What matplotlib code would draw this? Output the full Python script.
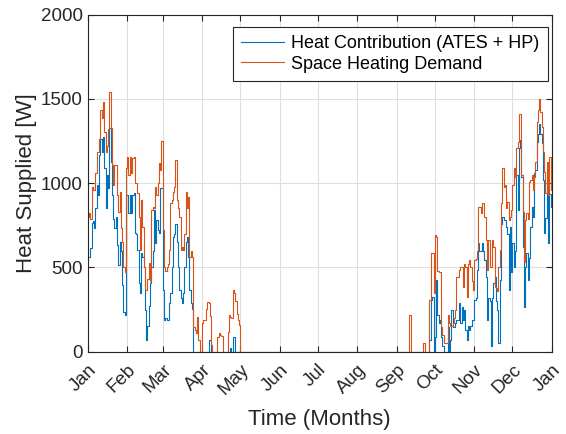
import numpy as np
import pandas as pd
import matplotlib
matplotlib.use("Agg")
import matplotlib.pyplot as plt
import matplotlib.dates as mdates

plt.rcParams['font.family'] = ['Liberation Sans', 'DejaVu Sans']

# daily values, Jan 1 - May 5 (125 days)
demand_jan_may = [
    800, 820, 790, 980, 960, 960, 1060, 1185, 1185, 1265,
    1433, 1385, 1480, 1305, 1185, 1220, 1320, 1540, 1330, 1107,
    990, 1107, 1107, 930, 830, 950, 733, 650, 505, 475,
    1087, 1157, 1050, 1157, 1060, 1150, 1157, 1000, 1000, 940,
    800, 603, 900, 741, 500, 366, 366, 430, 525, 420,
    840, 860, 850, 980, 930, 1000, 1117, 1080, 1250, 722,
    504, 480, 500, 520, 603, 880, 900, 950, 980, 1137,
    900, 850, 800, 603, 620, 603, 700, 950, 850, 920,
    563, 600, 560, 148, 130, 110, 207, 69, 0, 0,
    170, 188, 188, 250, 296, 288, 210, 40, 0, 0,
    0, 0, 89, 110, 100, 90, 0, 0, 0, 0,
    118, 217, 207, 200, 366, 346, 300, 220, 187, 160,
    0, 0, 0, 0, 0,
]
supply_jan_may = [
    563, 563, 615, 763, 775, 733, 852, 988, 930, 1167,
    1265, 1185, 1275, 1087, 852, 1048, 970, 1325, 1127, 930,
    790, 733, 800, 633, 514, 650, 600, 395, 237, 217,
    930, 930, 820, 930, 820, 930, 940, 703, 700, 603,
    405, 346, 585, 560, 504, 247, 69, 150, 268, 405,
    500, 600, 840, 643, 781, 720, 703, 969, 969, 366,
    188, 200, 190, 188, 287, 350, 500, 682, 700, 760,
    650, 500, 366, 320, 287, 346, 500, 650, 680, 560,
    366, 287, 250, 0, 0, 0, 0, 0, 0, 0,
    0, 0, 0, 0, 0, 70, 70, 0, 0, 0,
    0, 0, 0, 0, 0, 0, 0, 0, 0, 0,
    0, 0, 20, 0, 89, 89, 0, 0, 0, 0,
    0, 0, 0, 0, 0,
]
# May 6 - Aug 31: no heating
summer_days = 118
# Sep 1 - Dec 31 (122 days)
demand_sep_dec = [
    0, 0, 0, 0, 0, 0, 0, 0, 0, 0,
    217, 0, 0, 0, 0, 0, 0, 0, 0, 0,
    0, 50, 0, 0, 0, 306, 306, 583, 583, 350,
    690, 682, 480, 474, 470, 148, 100, 50, 50, 50,
    217, 168, 150, 150, 168, 200, 247, 445, 445, 485,
    504, 504, 385, 520, 500, 326, 520, 543, 500, 420,
    366, 543, 550, 600, 860, 860, 820, 880, 880, 800,
    660, 485, 660, 500, 504, 660, 620, 385, 380, 360,
    500, 602, 880, 1087, 980, 990, 850, 890, 780, 801,
    840, 988, 1087, 1038, 1206, 1245, 1413, 1413, 1048, 830,
    534, 781, 820, 790, 1008, 1018, 1048, 960, 1038, 1127,
    1364, 1433, 1502, 1420, 1334, 1186, 1068, 940, 1127, 930,
    1157, 958,
]
supply_sep_dec = [
    0, 0, 0, 0, 0, 0, 0, 0, 0, 0,
    0, 0, 0, 0, 0, 0, 0, 0, 0, 0,
    0, 0, 0, 0, 0, 69, 69, 306, 322, 0,
    87, 425, 217, 168, 187, 87, 30, 0, 0, 0,
    148, 0, 69, 247, 148, 148, 168, 187, 187, 286,
    168, 267, 187, 247, 128, 69, 150, 128, 150, 188,
    187, 306, 320, 485, 643, 600, 600, 643, 600, 543,
    445, 187, 320, 300, 30, 320, 405, 445, 300, 247,
    50, 425, 760, 800, 781, 780, 740, 700, 365, 740,
    474, 643, 504, 600, 1048, 840, 1206, 1255, 1038, 623,
    267, 504, 583, 425, 553, 741, 860, 800, 1058, 1078,
    1245, 1294, 1353, 1290, 1236, 1018, 702, 791, 1000, 643,
    938, 860,
]

demand = demand_jan_may + [0] * summer_days + demand_sep_dec
supply = supply_jan_may + [0] * summer_days + supply_sep_dec
days = pd.date_range('2023-01-01', periods=len(demand) + 1, freq='D')
demand = demand + demand[-1:]
supply = supply + supply[-1:]

fig = plt.figure(figsize=(5.66, 4.34), dpi=100)
ax = fig.add_axes([0.155, 0.19, 0.82, 0.776])

ax.step(days, supply, where='post', color='#0072BD', lw=0.8,
        label='Heat Contribution (ATES + HP)')
ax.step(days, demand, where='post', color='#D95319', lw=0.8,
        label='Space Heating Demand')

ax.set_xlim(pd.Timestamp('2023-01-01'), pd.Timestamp('2024-01-01'))
ax.set_ylim(0, 2000)
ax.set_yticks([0, 500, 1000, 1500, 2000])
ax.xaxis.set_major_locator(mdates.MonthLocator())
ax.xaxis.set_major_formatter(mdates.DateFormatter('%b'))
for lab in ax.get_xticklabels():
    lab.set_rotation(45)
    lab.set_ha('right')
    lab.set_rotation_mode('anchor')

ax.grid(True, color='#dfdfdf', lw=0.8)
ax.set_axisbelow(True)
for s in ax.spines.values():
    s.set_color('#262626')
    s.set_linewidth(0.8)
ax.tick_params(direction='in', length=4, width=0.8, colors='#262626',
               labelsize=13.5, top=True, right=True, labelcolor='#262626')
ax.tick_params(axis='x', pad=7)

ax.set_xlabel('Time (Months)', fontsize=16, color='#262626', labelpad=8)
ax.set_ylabel('Heat Supplied [W]', fontsize=16, color='#262626', labelpad=3)

leg = ax.legend(loc='upper right', bbox_to_anchor=(0.991, 0.964),
                fontsize=13, fancybox=False,
                edgecolor='#262626', framealpha=1, handlelength=2.4,
                borderpad=0.45, labelspacing=0.2, handletextpad=0.4,
                borderaxespad=0)
leg.get_frame().set_linewidth(0.8)

fig.savefig('out.png', dpi=100)
